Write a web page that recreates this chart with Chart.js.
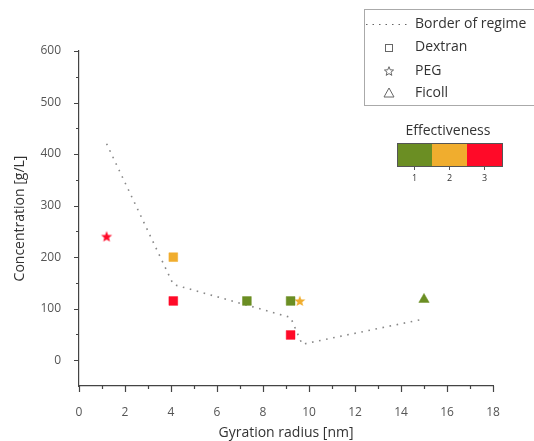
<!DOCTYPE html>
<html>
<head>
<meta charset="utf-8">
<script src="https://cdn.jsdelivr.net/npm/chart.js@4/dist/chart.umd.min.js"></script>
<style>
html, body { margin: 0; padding: 0; background: #fff; }
</style>
</head>
<body>
<canvas id="myChart" width="534" height="441"></canvas>
<script>
// border of regime (dotted line)
const borderX = [1.2, 4.1, 9.2, 9.7, 15.0];
const borderY = [420, 147, 83, 31, 80];

// Dextran
const dextranX = [4.1, 4.1, 7.3, 9.2, 9.2];
const dextranY = [200, 115, 115, 115, 49];
const dextranEff = [2, 3, 1, 1, 3];

// PEG
const pegX = [1.2, 9.6];
const pegY = [240, 115];
const pegEff = [3, 2];

// Ficoll
const ficollX = [15.0];
const ficollY = [118];
const ficollEff = [1];

const effLevels = [1, 2, 3];
const effColors = {1: '#6B8E23', 2: '#F0AD2E', 3: '#FF0A28'};

const FONT = "'Open Sans', sans-serif";

function pts(xs, ys) {
    return xs.map((x, i) => ({x: x, y: ys[i]}));
}

function starPath(g, cx, cy, ro, ri) {
    g.beginPath();
    for (let i = 0; i < 10; i++) {
        const r = i % 2 ? ri : ro;
        const a = -Math.PI / 2 + i * Math.PI / 5;
        g.lineTo(cx + r * Math.cos(a), cy + r * Math.sin(a));
    }
    g.closePath();
}

function makeStar(color) {
    const c = document.createElement('canvas');
    c.width = 14; c.height = 14;
    const g = c.getContext('2d');
    g.fillStyle = color;
    starPath(g, 7, 7.4, 5.8, 2.5);
    g.fill();
    return c;
}
const starImgs = {};
effLevels.forEach(e => starImgs[e] = makeStar(effColors[e]));

// ticks, legend box and effectiveness colour bar
const extras = {
    id: 'extras',
    afterDraw(chart) {
        const ctx = chart.ctx;
        const xs = chart.scales.x, ys = chart.scales.y;
        ctx.save();
        ctx.strokeStyle = '#444';
        ctx.lineWidth = 1.2;
        ctx.beginPath();
        for (let v = 0; v <= 18; v++) {
            const px = Math.round(xs.getPixelForValue(v)) + 0.5;
            const len = v % 2 === 0 ? 6 : 3;
            ctx.moveTo(px, ys.bottom);
            ctx.lineTo(px, ys.bottom + len);
        }
        for (let v = 0; v <= 600; v += 50) {
            const py = Math.round(ys.getPixelForValue(v)) + 0.5;
            const len = v % 100 === 0 ? 5 : 3;
            ctx.moveTo(xs.left, py);
            ctx.lineTo(xs.left - len, py);
        }
        ctx.stroke();

        // legend
        ctx.strokeStyle = '#aaa';
        ctx.lineWidth = 1;
        ctx.strokeRect(364.5, 9.5, 180, 96);
        ctx.font = '14px ' + FONT;
        ctx.fillStyle = '#333';
        ctx.textBaseline = 'middle';
        ctx.textAlign = 'left';
        const labels = chart.data.datasets.map(d => d.label);
        const rowY = [24, 47, 71, 93];
        const order = [3, 0, 1, 2];
        order.forEach((di, r) => {
            ctx.fillText(labels[di], 415, rowY[r]);
        });
        ctx.strokeStyle = '#666';
        ctx.lineWidth = 1;
        ctx.setLineDash([1.5, 5]);
        ctx.beginPath();
        ctx.moveTo(366, rowY[0] + 0.5);
        ctx.lineTo(410, rowY[0] + 0.5);
        ctx.stroke();
        ctx.setLineDash([]);
        ctx.strokeRect(385.5, 44.5, 7, 7);
        starPath(ctx, 389, 71.5, 4.8, 2.1);
        ctx.stroke();
        ctx.beginPath();
        ctx.moveTo(389, 88);
        ctx.lineTo(394, 97);
        ctx.lineTo(384, 97);
        ctx.closePath();
        ctx.stroke();

        // colour bar
        ctx.textAlign = 'center';
        ctx.fillText('Effectiveness', 448, 131);
        const bx = 397, by = 143, bw = 35, bh = 23;
        effLevels.forEach((e, i) => {
            ctx.fillStyle = effColors[e];
            ctx.fillRect(bx + i * bw, by, bw, bh);
        });
        ctx.strokeStyle = '#555';
        ctx.strokeRect(bx + 0.5, by + 0.5, bw * 3, bh);
        ctx.beginPath();
        ctx.font = '9px ' + FONT;
        ctx.fillStyle = '#333';
        effLevels.forEach((e, i) => {
            const px = bx + i * bw + bw / 2;
            ctx.moveTo(px, by + bh);
            ctx.lineTo(px, by + bh + 4);
            ctx.fillText(String(e), px, by + bh + 12);
        });
        ctx.stroke();
        ctx.restore();
    }
};

const ctx = document.getElementById('myChart').getContext('2d');
const chart = new Chart(ctx, {
    type: 'scatter',
    data: {
        datasets: [{
            label: 'Dextran',
            data: pts(dextranX, dextranY),
            pointStyle: 'rect',
            pointRadius: 6.2,
            pointBackgroundColor: dextranEff.map(e => effColors[e]),
            pointBorderColor: dextranEff.map(e => effColors[e]),
            pointBorderWidth: 0.5
        }, {
            label: 'PEG',
            data: pts(pegX, pegY),
            pointStyle: pegEff.map(e => starImgs[e])
        }, {
            label: 'Ficoll',
            data: pts(ficollX, ficollY),
            pointStyle: 'triangle',
            pointRadius: 6,
            pointBackgroundColor: ficollEff.map(e => effColors[e]),
            pointBorderColor: ficollEff.map(e => effColors[e]),
            pointBorderWidth: 0.5
        }, {
            label: 'Border of regime',
            data: pts(borderX, borderY),
            showLine: true,
            borderColor: '#888',
            borderWidth: 1.6,
            borderDash: [1.6, 5.6],
            pointRadius: 0,
            pointHoverRadius: 0
        }]
    },
    options: {
        responsive: false,
        animation: false,
        layout: {padding: {top: 51, right: 41, left: 0, bottom: 0}},
        plugins: {
            legend: {display: false},
            tooltip: {enabled: false}
        },
        scales: {
            x: {
                type: 'linear',
                min: 0,
                max: 18,
                afterFit: s => { s.height = 55; },
                grid: {display: false},
                border: {display: true, color: '#444', width: 1.2},
                ticks: {
                    stepSize: 1,
                    autoSkip: false,
                    maxRotation: 0,
                    padding: 11,
                    color: '#555',
                    font: {family: FONT, size: 12},
                    callback: v => (v % 2 === 0 ? v : '')
                },
                title: {
                    display: true,
                    text: 'Gyration radius [nm]',
                    color: '#333',
                    font: {family: FONT, size: 14},
                    padding: {top: 0, bottom: 0}
                }
            },
            y: {
                min: -50,
                max: 600,
                afterFit: s => { s.width = 79; },
                grid: {display: false},
                border: {display: true, color: '#444', width: 1.2},
                ticks: {
                    stepSize: 50,
                    autoSkip: false,
                    padding: 10,
                    color: '#555',
                    font: {family: FONT, size: 12},
                    callback: v => (v % 100 === 0 ? v : '')
                },
                title: {
                    display: true,
                    text: 'Concentration [g/L]',
                    color: '#333',
                    font: {family: FONT, size: 14},
                    padding: {top: 12, bottom: 0}
                }
            }
        }
    },
    plugins: [extras]
});
</script>
</body>
</html>
